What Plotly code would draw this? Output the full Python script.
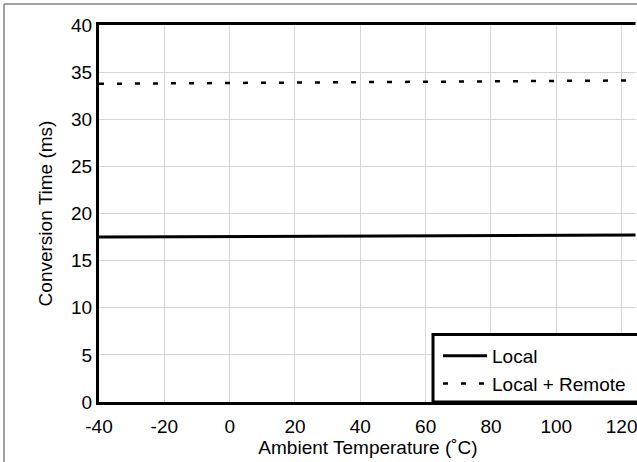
import plotly.graph_objects as go

temps = [-40, -20, 0, 25, 50, 75, 100, 125]
local_ms = [17.5, 17.53, 17.56, 17.59, 17.62, 17.65, 17.69, 17.73]
local_remote_ms = [33.76, 33.8, 33.85, 33.9, 33.95, 34.0, 34.06, 34.12]
x_ticks = [-40, -20, 0, 20, 40, 60, 80, 100, 120]
y_ticks = [0, 5, 10, 15, 20, 25, 30, 35, 40]

W, H = 637, 462
L, T, B, R = 99, 25, 60, 0
pw, ph = W - L - R, H - T - B

def px_x(p):
    return (p - L) / pw

def px_y(p):
    return (H - B - p) / ph

font = dict(family="Liberation Sans, Arial, sans-serif", size=19, color="black")

fig = go.Figure()
fig.add_trace(go.Scatter(x=temps, y=local_ms, mode="lines", name="Local",
                         line=dict(color="black", width=3)))
fig.add_trace(go.Scatter(x=temps, y=local_remote_ms, mode="lines", name="Local + Remote",
                         line=dict(color="black", width=2.5, dash="5px,13px")))

fig.update_layout(
    width=W, height=H,
    margin=dict(l=L, r=R, t=T, b=B, autoexpand=False),
    paper_bgcolor="white", plot_bgcolor="white",
    font=font,
    showlegend=True,
    legend=dict(x=px_x(438), y=px_y(337), xanchor="left", yanchor="top",
                bgcolor="rgba(0,0,0,0)", borderwidth=0, font=font,
                itemwidth=44, tracegroupgap=0),
    xaxis=dict(range=[-40, 124.7], tickvals=x_ticks, ticktext=[str(v) for v in x_ticks],
               showgrid=True, gridcolor="#d4d4d4", gridwidth=1,
               showline=True, linecolor="black", linewidth=3, mirror=True,
               ticks="", zeroline=False, tickfont=font,
               ticklabelstandoff=5, ticklabeloverflow="allow",
               title=dict(text="Ambient Temperature (˚C)", font=font, standoff=2)),
    yaxis=dict(range=[0, 40], tickvals=y_ticks,
               showgrid=True, gridcolor="#d4d4d4", gridwidth=1,
               showline=True, linecolor="black", linewidth=3, mirror=False,
               ticks="", zeroline=False, tickfont=font,
               title=dict(text="Conversion Time (ms)", font=font, standoff=14)),
    shapes=[
        dict(type="rect", xref="paper", yref="paper", x0=px_x(433), x1=1.2,
             y0=0, y1=px_y(334.5), line=dict(color="black", width=3),
             fillcolor="white", layer="above"),
        dict(type="line", xref="paper", yref="paper", x0=px_x(4), x1=px_x(4),
             y0=px_y(4), y1=-0.3, line=dict(color="#808080", width=1.5)),
        dict(type="line", xref="paper", yref="paper", x0=px_x(4), x1=1.2,
             y0=px_y(4), y1=px_y(4), line=dict(color="#808080", width=1.5)),
        dict(type="rect", xref="paper", yref="paper", x0=px_x(635.5), x1=1.1,
             y0=px_y(5.5), y1=px_y(333), line=dict(width=0),
             fillcolor="white", layer="above"),
    ],
)

fig.write_html(
    "out.html",
    post_script=("document.body.style.margin='0px';"
                 "document.body.style.overflow='hidden';"
                 "document.documentElement.style.overflow='hidden';"),
    config={"displayModeBar": False},
)
